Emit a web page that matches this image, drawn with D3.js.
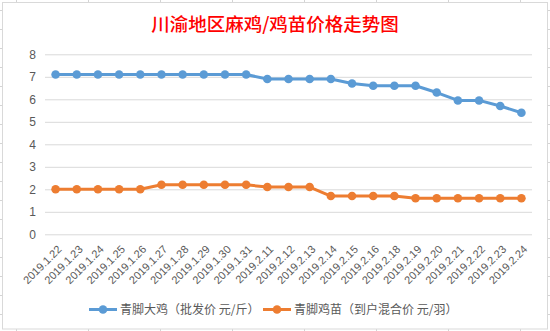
<!DOCTYPE html>
<html>
<head>
<meta charset="utf-8">
<script src="https://cdn.jsdelivr.net/npm/d3@7"></script>
<style>
html,body{margin:0;padding:0;background:#fff;}
svg{display:block;}
</style>
</head>
<body>
<svg id="chart" width="550" height="331"></svg>
<script>
const title = "川渝地区麻鸡/鸡苗价格走势图";
const categories = ["2019.1.22","2019.1.23","2019.1.24","2019.1.25","2019.1.26","2019.1.27","2019.1.28","2019.1.29","2019.1.30","2019.1.31","2019.2.11","2019.2.12","2019.2.13","2019.2.14","2019.2.15","2019.2.16","2019.2.18","2019.2.19","2019.2.20","2019.2.21","2019.2.22","2019.2.23","2019.2.24"];
const seriesNames = ["青脚大鸡（批发价 元/斤）","青脚鸡苗（到户混合价 元/羽）"];
const chickenPrice = [7.1,7.1,7.1,7.1,7.1,7.1,7.1,7.1,7.1,7.1,6.9,6.9,6.9,6.9,6.7,6.6,6.6,6.6,6.3,5.95,5.95,5.7,5.4];
const chickPrice = [2.0,2.0,2.0,2.0,2.0,2.2,2.2,2.2,2.2,2.2,2.1,2.1,2.1,1.7,1.7,1.7,1.7,1.6,1.6,1.6,1.6,1.6,1.6];
const yTicks = [0,1,2,3,4,5,6,7,8];
const colors = ["#5B9BD5","#ED7D31"];

const svg = d3.select("#chart");
const W = 550, H = 331;

// spreadsheet background grid
const bg = svg.append("g");
for (let x = 16.5; x < W; x += 72) {
  bg.append("line").attr("x1", x).attr("x2", x).attr("y1", 0).attr("y2", H)
    .attr("stroke", "#D4D4D4").attr("stroke-width", 1);
}
for (let y = 10.5; y < H; y += 19) {
  bg.append("line").attr("x1", 0).attr("x2", W).attr("y1", y).attr("y2", y)
    .attr("stroke", "#D4D4D4").attr("stroke-width", 1);
}

// chart area
svg.append("rect").attr("x", 2.5).attr("y", 2.5).attr("width", 545).attr("height", 326.5)
  .attr("fill", "#fff").attr("stroke", "#D9D9D9").attr("stroke-width", 1);

svg.append("text").attr("x", 275).attr("y", 31).attr("text-anchor", "middle")
  .attr("fill", "#FF0000").attr("font-family", "Noto Sans CJK SC, sans-serif")
  .attr("font-size", 18.5).attr("font-weight", 500).text(title);

const x = d3.scaleBand().domain(categories).range([45, 532]);
const y = d3.scaleLinear().domain([0, 8]).range([234.3, 54.3]);

// gridlines
const yAxis = d3.axisLeft(y).tickValues(yTicks).tickSize(-(532 - 45)).tickFormat(d3.format("d"));
const ga = svg.append("g").attr("transform", "translate(45,0)").call(yAxis);
ga.select(".domain").remove();
ga.selectAll(".tick line").attr("stroke", "#D9D9D9").attr("stroke-width", 1);
ga.selectAll(".tick text").attr("x", -9).attr("fill", "#595959")
  .attr("font-family", "Liberation Sans, Arial, sans-serif").attr("font-size", 12);

// x axis labels
const xAxis = d3.axisBottom(x).tickSize(0);
const gx = svg.append("g").attr("transform", "translate(0,234.3)").call(xAxis);
gx.select(".domain").remove();
gx.selectAll(".tick text")
  .attr("font-family", "Liberation Sans, Arial, sans-serif").attr("font-size", 11)
  .attr("fill", "#595959")
  .attr("text-anchor", "end").attr("dy", "0.35em")
  .attr("transform", "translate(4,13) rotate(-45)")
  .attr("y", 0).attr("x", 0);

const cx = d => x(d) + x.bandwidth() / 2;
const series = [chickenPrice, chickPrice];
series.forEach((vals, i) => {
  const pts = categories.map((c, j) => [cx(c), y(vals[j])]);
  svg.append("path").attr("d", d3.line()(pts)).attr("fill", "none")
    .attr("stroke", colors[i]).attr("stroke-width", 3).attr("stroke-linejoin", "round");
  svg.append("g").selectAll("circle").data(pts).join("circle")
    .attr("cx", d => d[0]).attr("cy", d => d[1]).attr("r", 4.3).attr("fill", colors[i]);
});

// legend
const legendX = [89, 263];
seriesNames.forEach((name, i) => {
  const g = svg.append("g").attr("transform", `translate(${legendX[i]},309.5)`);
  g.append("line").attr("x1", 0).attr("x2", 28).attr("y1", 0).attr("y2", 0)
    .attr("stroke", colors[i]).attr("stroke-width", 3);
  g.append("circle").attr("cx", 14).attr("cy", 0).attr("r", 4.3).attr("fill", colors[i]);
  g.append("text").attr("x", 31).attr("y", 0).attr("dy", "0.35em")
    .attr("fill", "#595959").attr("font-family", "Noto Sans CJK SC, sans-serif")
    .attr("font-size", 12).text(name);
});
</script>
</body>
</html>
